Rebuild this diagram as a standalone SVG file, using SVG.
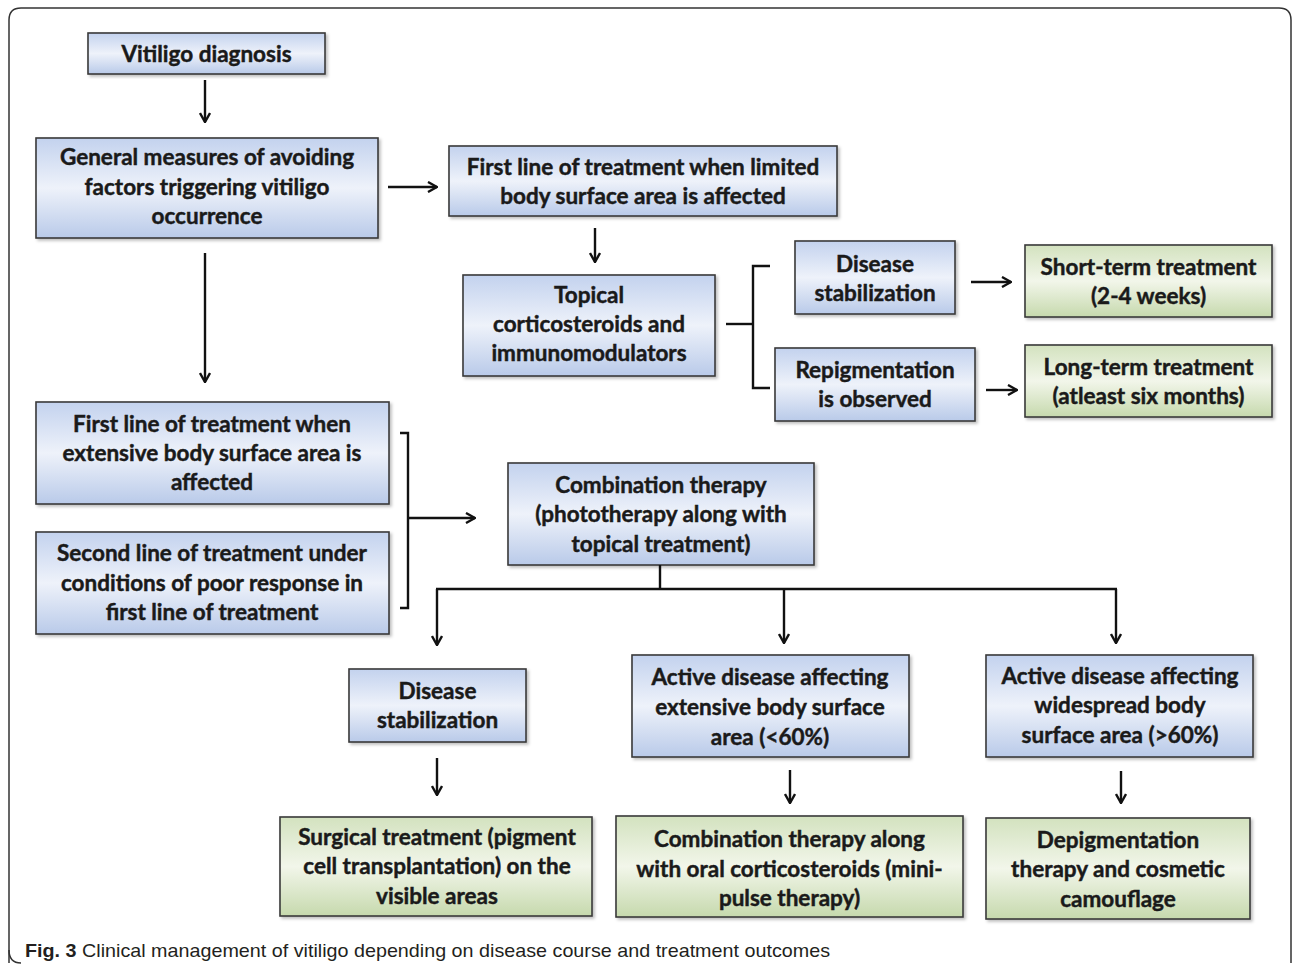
<svg xmlns="http://www.w3.org/2000/svg" width="1292" height="968" viewBox="0 0 1292 968">
<defs>
<linearGradient id="gb" x1="0" y1="0" x2="0" y2="1">
<stop offset="0" stop-color="#c3d2ee"/>
<stop offset="0.5" stop-color="#eef2fa"/>
<stop offset="1" stop-color="#b9cae9"/>
</linearGradient>
<linearGradient id="gg" x1="0" y1="0" x2="0" y2="1">
<stop offset="0" stop-color="#d3e2bf"/>
<stop offset="0.5" stop-color="#f2f6ea"/>
<stop offset="1" stop-color="#c6d9ad"/>
</linearGradient>
<marker id="ah" viewBox="0 0 12 12" refX="11" refY="6" markerWidth="12" markerHeight="12" markerUnits="userSpaceOnUse" orient="auto">
<polyline points="2,1 11,6 2,11" fill="none" stroke="#111" stroke-width="2.4"/>
</marker>
<filter id="sh" x="-5%" y="-5%" width="110%" height="115%">
<feDropShadow dx="2" dy="2" stdDeviation="1.5" flood-color="#000" flood-opacity="0.25"/>
</filter>
</defs>
<style>
.b{fill:url(#gb);stroke:#3a3a3a;stroke-width:1.6;filter:url(#sh)}
.g{fill:url(#gg);stroke:#3a3a3a;stroke-width:1.6;filter:url(#sh)}
.t{font-family:Lato,"Open Sans","Liberation Sans",sans-serif;font-weight:bold;font-size:22.5px;fill:#1a1a1a;stroke:#1a1a1a;stroke-width:0.45;text-anchor:middle}
.c{fill:none;stroke:#111;stroke-width:2.4}
.a{fill:none;stroke:#111;stroke-width:2.4;marker-end:url(#ah)}
.cap{font-family:"Liberation Sans",Arial,sans-serif;font-size:19px;fill:#231f20}
</style>
<rect width="1292" height="968" fill="#ffffff"/>
<path d="M9,963 L9,20 Q9,8 21,8 L1279,8 Q1291,8 1291,20 L1291,963" fill="none" stroke="#333" stroke-width="1.5"/>
<path d="M9,950 Q9,963 21,963" fill="none" stroke="#333" stroke-width="1.5"/>

<g id="n1"><rect class="b" x="88" y="33" width="237" height="41"/><text class="t" x="206.5" y="62">Vitiligo diagnosis</text></g>
<g id="n2"><rect class="b" x="36" y="138" width="342" height="100"/><text class="t" x="207" y="165">General measures of avoiding</text><text class="t" x="207" y="195">factors triggering vitiligo</text><text class="t" x="207" y="224">occurrence</text></g>
<g id="n3"><rect class="b" x="449" y="146" width="388" height="70"/><text class="t" x="643" y="175">First line of treatment when limited</text><text class="t" x="643" y="204">body surface area is affected</text></g>
<g id="n4"><rect class="b" x="463" y="275" width="252" height="101"/><text class="t" x="589" y="303">Topical</text><text class="t" x="589" y="332">corticosteroids and</text><text class="t" x="589" y="361">immunomodulators</text></g>
<g id="n5"><rect class="b" x="795" y="241" width="160" height="73"/><text class="t" x="875" y="272">Disease</text><text class="t" x="875" y="301">stabilization</text></g>
<g id="n6"><rect class="g" x="1025" y="245" width="247" height="72"/><text class="t" x="1148.5" y="275">Short-term treatment</text><text class="t" x="1148.5" y="304">(2-4 weeks)</text></g>
<g id="n7"><rect class="b" x="775" y="348" width="200" height="73"/><text class="t" x="875" y="378">Repigmentation</text><text class="t" x="875" y="407">is observed</text></g>
<g id="n8"><rect class="g" x="1025" y="345" width="247" height="72"/><text class="t" x="1148.5" y="375">Long-term treatment</text><text class="t" x="1148.5" y="404">(atleast six months)</text></g>
<g id="n9"><rect class="b" x="36" y="402" width="353" height="102"/><text class="t" x="212" y="432">First line of treatment when</text><text class="t" x="212" y="461">extensive body surface area is</text><text class="t" x="212" y="490">affected</text></g>
<g id="n10"><rect class="b" x="36" y="532" width="353" height="102"/><text class="t" x="212" y="561">Second line of treatment under</text><text class="t" x="212" y="591">conditions of poor response in</text><text class="t" x="212" y="620">first line of treatment</text></g>
<g id="n11"><rect class="b" x="508" y="463" width="306" height="102"/><text class="t" x="661" y="493">Combination therapy</text><text class="t" x="661" y="522">(phototherapy along with</text><text class="t" x="661" y="552">topical treatment)</text></g>
<g id="n12"><rect class="b" x="349" y="669" width="177" height="73"/><text class="t" x="437.5" y="699">Disease</text><text class="t" x="437.5" y="728">stabilization</text></g>
<g id="n13"><rect class="b" x="632" y="655" width="277" height="102"/><text class="t" x="770" y="685">Active disease affecting</text><text class="t" x="770" y="715">extensive body surface</text><text class="t" x="770" y="745">area (&lt;60%)</text></g>
<g id="n14"><rect class="b" x="986" y="655" width="267" height="102"/><text class="t" x="1120" y="684">Active disease affecting</text><text class="t" x="1120" y="713">widespread body</text><text class="t" x="1120" y="743">surface area (&gt;60%)</text></g>
<g id="n15"><rect class="g" x="280" y="817" width="312" height="99"/><text class="t" x="437" y="845">Surgical treatment (pigment</text><text class="t" x="437" y="874">cell transplantation) on the</text><text class="t" x="437" y="904">visible areas</text></g>
<g id="n16"><rect class="g" x="616" y="816" width="347" height="101"/><text class="t" x="789.5" y="847">Combination therapy along</text><text class="t" x="789.5" y="877">with oral corticosteroids (mini-</text><text class="t" x="789.5" y="906">pulse therapy)</text></g>
<g id="n17"><rect class="g" x="986" y="818" width="264" height="101"/><text class="t" x="1118" y="848">Depigmentation</text><text class="t" x="1118" y="877">therapy and cosmetic</text><text class="t" x="1118" y="907">camouflage</text></g>

<g id="connectors">
<line class="a" x1="205" y1="80" x2="205" y2="122"/>
<line class="a" x1="388" y1="187" x2="437" y2="187"/>
<line class="a" x1="595" y1="228" x2="595" y2="262"/>
<line class="a" x1="205" y1="253" x2="205" y2="382"/>
<line class="c" x1="726" y1="324" x2="753" y2="324"/>
<polyline class="c" points="770,266 753,266 753,388 770,388"/>
<line class="a" x1="971" y1="282" x2="1011" y2="282"/>
<line class="a" x1="986" y1="390" x2="1017" y2="390"/>
<polyline class="c" points="400,433 408,433 408,608 400,608"/>
<line class="a" x1="408" y1="518" x2="475" y2="518"/>
<line class="c" x1="660" y1="565" x2="660" y2="589"/>
<line class="c" x1="436" y1="589" x2="1117" y2="589"/>
<line class="a" x1="437" y1="589" x2="437" y2="645"/>
<line class="a" x1="784" y1="589" x2="784" y2="643"/>
<line class="a" x1="1116" y1="589" x2="1116" y2="643"/>
<line class="a" x1="437" y1="758" x2="437" y2="795"/>
<line class="a" x1="790" y1="770" x2="790" y2="803"/>
<line class="a" x1="1121" y1="771" x2="1121" y2="803"/>
</g>
<text class="cap" x="25" y="957" textLength="805" lengthAdjust="spacingAndGlyphs"><tspan font-weight="bold">Fig. 3</tspan> Clinical management of vitiligo depending on disease course and treatment outcomes</text>
</svg>
